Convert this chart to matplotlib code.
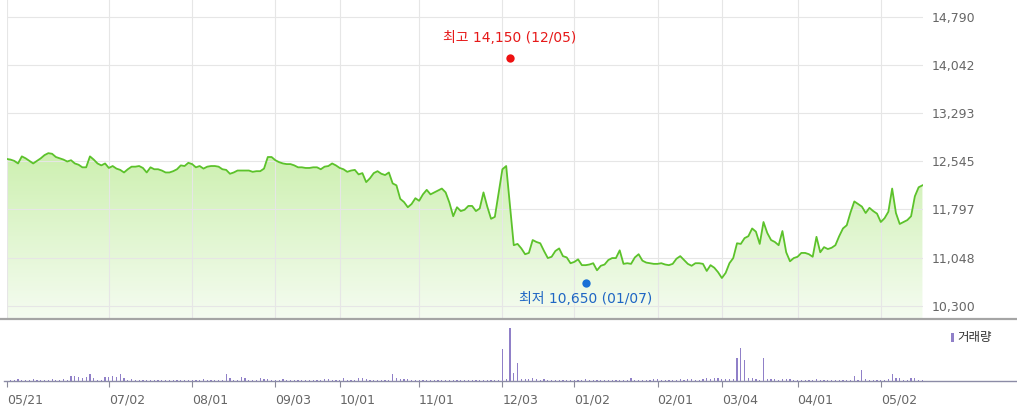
import numpy as np
import pandas as pd
import matplotlib
matplotlib.use("Agg")
import matplotlib.pyplot as plt
from matplotlib.colors import LinearSegmentedColormap
from matplotlib.lines import Line2D
from matplotlib.patches import Rectangle

plt.rcParams['font.family'] = ['DejaVu Sans', 'Noto Sans CJK KR']

# ---------------- data ----------------
start_date = '2018-05-21'
end_date = '2019-05-20'
holidays = ['2018-05-22', '2018-06-06', '2018-06-13', '2018-08-15', '2018-09-24',
            '2018-09-25', '2018-09-26', '2018-10-03', '2018-10-09', '2018-12-25',
            '2018-12-31', '2019-01-01', '2019-02-04', '2019-02-05', '2019-02-06',
            '2019-03-01', '2019-05-01', '2019-05-06']

prices = [
    12580, 12570, 12550, 12510, 12620, 12590, 12550, 12510, 12550, 12590,
    12640, 12670, 12660, 12610, 12590, 12570, 12540, 12560, 12510, 12490,
    12450, 12450, 12620, 12570, 12510, 12480, 12510, 12440, 12470, 12430,
    12410, 12370, 12420, 12460, 12460, 12470, 12440, 12370, 12450, 12420,
    12420, 12400, 12370, 12370, 12390, 12420, 12480, 12470, 12520, 12500,
    12450, 12470, 12430, 12460, 12470, 12470, 12460, 12420, 12410, 12350,
    12370, 12400, 12400, 12400, 12400, 12380, 12390, 12390, 12430, 12610,
    12610, 12560, 12530, 12510, 12500, 12500, 12480, 12450, 12450, 12440,
    12440, 12450, 12450, 12420, 12460, 12470, 12510, 12480, 12440, 12420,
    12380, 12400, 12410, 12340, 12360, 12220, 12280, 12360, 12390, 12350,
    12330, 12370, 12200, 12170, 11960, 11910, 11830, 11880, 11970, 11930,
    12030, 12100, 12030, 12060, 12090, 12120, 12060, 11900, 11690, 11830,
    11770, 11790, 11850, 11850, 11770, 11810, 12060, 11840, 11650, 11680,
    12050, 12420, 12470, 11860, 11240, 11260, 11190, 11100, 11120, 11320,
    11290, 11270, 11150, 11040, 11060, 11150, 11190, 11070, 11050, 10960,
    10980, 11020, 10930, 10930, 10940, 10960, 10850, 10920, 10940, 11010,
    11040, 11040, 11160, 10950, 10960, 10950, 11050, 11100, 11000, 10970,
    10960, 10950, 10950, 10960, 10940, 10930, 10950, 11030, 11070, 11010,
    10950, 10920, 10960, 10960, 10950, 10840, 10930, 10890, 10820, 10730,
    10810, 10960, 11040, 11270, 11260, 11350, 11380, 11500, 11450, 11260,
    11600, 11430, 11320, 11290, 11240, 11460, 11130, 10990, 11040, 11060,
    11120, 11120, 11100, 11060, 11370, 11130, 11210, 11180, 11200, 11240,
    11380, 11500, 11550, 11750, 11920, 11880, 11840, 11740, 11820, 11770,
    11730, 11600, 11660, 11760, 12120, 11740, 11570, 11600, 11630, 11690,
    12000, 12140, 12170]

volumes = [
    2, 2, 2, 3, 2, 2, 2, 3, 2, 2,
    2, 2, 3, 2, 2, 3, 2, 9, 9, 8,
    6, 8, 13, 5, 2, 1, 8, 8, 10, 8,
    13, 6, 2, 4, 2, 2, 1, 2, 1, 2,
    2, 1, 2, 2, 1, 2, 2, 1, 1, 1,
    1, 1, 4, 1, 2, 1, 2, 2, 13, 5,
    2, 2, 8, 6, 1, 1, 1, 5, 3, 4,
    2, 1, 1, 3, 1, 1, 2, 1, 1, 1,
    1, 1, 2, 2, 3, 3, 1, 1, 2, 5,
    1, 1, 2, 5, 6, 4, 1, 1, 1, 1,
    1, 1, 13, 5, 3, 4, 3, 1, 1, 1,
    1, 1, 1, 1, 2, 1, 2, 1, 2, 1,
    2, 1, 1, 1, 1, 1, 1, 1, 1, 1,
    1, 60, 3, 100, 15, 34, 3, 3, 3, 5,
    3, 2, 3, 2, 2, 1, 1, 1, 1, 1,
    1, 1, 1, 3, 1, 1, 2, 1, 1, 1,
    1, 1, 1, 1, 2, 5, 1, 1, 1, 1,
    2, 4, 3, 1, 1, 1, 1, 1, 3, 1,
    3, 3, 2, 1, 4, 5, 3, 5, 5, 3,
    3, 3, 3, 43, 62, 40, 6, 5, 3, 2,
    43, 3, 3, 3, 2, 3, 3, 3, 1, 1,
    1, 1, 1, 1, 3, 1, 1, 1, 1, 1,
    2, 1, 2, 2, 9, 2, 21, 3, 1, 1,
    1, 1, 1, 3, 13, 6, 5, 1, 1, 5,
    5, 1, 1]

tick_dates = ['2018-05-21', '2018-07-02', '2018-08-01', '2018-09-03', '2018-10-01',
              '2018-11-01', '2018-12-03', '2019-01-02', '2019-02-01', '2019-03-04',
              '2019-04-01', '2019-05-02']
y_ticks = [10300, 11048, 11797, 12545, 13293, 14042, 14790]

high_date, high_value = '2018-12-05', 14150
low_date, low_value = '2019-01-07', 10650
high_label = '최고 14,150 (12/05)'
low_label = '최저 10,650 (01/07)'
volume_label = '거래량'

# ---------------- calendar ----------------
dates = pd.bdate_range(start_date, end_date)
dates = dates[~dates.isin(pd.to_datetime(holidays))]
n = min(len(dates), len(prices), len(volumes))
dates = dates[:n]
x = np.arange(n)
p = np.array(prices[:n], dtype=float)
v = np.array(volumes[:n], dtype=float)

tick_idx = dates.get_indexer(pd.to_datetime(tick_dates))
tick_lbl = [pd.Timestamp(d).strftime('%m/%d') for d in tick_dates]
hi_idx = dates.get_indexer(pd.to_datetime([high_date]))[0]
lo_idx = dates.get_indexer(pd.to_datetime([low_date]))[0]

# ---------------- layout ----------------
W, H = 1017, 417
fig = plt.figure(figsize=(W / 100, H / 100), dpi=100)
fig.patch.set_facecolor('white')

def rect(l, t, r, b):
    return [l / W, 1 - b / H, (r - l) / W, (b - t) / H]

L_PX, R_PX = 6.7, 923
step = 3.784
x_right = (R_PX - L_PX) / step

# price axis
ax = fig.add_axes(rect(L_PX, 0, R_PX, 319))
px_per_unit = (305.7 - 16.7) / (14790 - 10300)
y_top = 14790 + 16.7 / px_per_unit
y_bot = 10300 - (319 - 305.7) / px_per_unit

green_cmap = LinearSegmentedColormap.from_list('g', ['#f5fcf1', '#cdf0b0'])
grad = np.linspace(0, 1, 256).reshape(-1, 1)
im = ax.imshow(grad, extent=[0, x[-1], y_bot, p.max()], origin='lower',
               cmap=green_cmap, aspect='auto', zorder=0.1, interpolation='bicubic')
poly = ax.fill_between(x, p, y_bot, color='none', linewidth=0)
im.set_clip_path(poly.get_paths()[0], ax.transData)
ax.plot(x, p, color='#5cc22b', linewidth=1.3, zorder=3, solid_joinstyle='round')

ax.set_xlim(0, x_right)
ax.set_ylim(y_bot, y_top)
ax.set_xticks(tick_idx)
ax.set_yticks(y_ticks)
ax.set_yticklabels([f'{t:,}' for t in y_ticks])
ax.yaxis.tick_right()
ax.tick_params(axis='y', length=0, pad=6.5, labelsize=9, labelcolor='#666666')
ax.tick_params(axis='x', length=0, labelbottom=False)
ax.grid(True, color='#e6e6e6', linewidth=0.8)
ax.set_axisbelow(True)
for s in ax.spines.values():
    s.set_visible(False)

# high / low markers
ax.plot([hi_idx], [high_value], 'o', color='#ee1111', markersize=6, zorder=4,
        markeredgewidth=0)
ax.plot([lo_idx], [low_value], 'o', color='#1a6fd6', markersize=6, zorder=4,
        markeredgewidth=0)
ax.annotate(high_label, (hi_idx, high_value), xytext=(0, 14.5), textcoords='offset points',
            ha='center', va='center', color='#e61919', fontsize=10, zorder=5)
ax.annotate(low_label, (lo_idx, low_value), xytext=(0, -11.2), textcoords='offset points',
            ha='center', va='center', color='#1f66c4', fontsize=10, zorder=5)

# volume axis
vax = fig.add_axes(rect(L_PX, 322, R_PX, 381))
vax.bar(x, v, width=0.32, color='#9080c8', linewidth=0)
vax.set_xlim(0, x_right)
vax.set_ylim(0, 100 * 59 / 53)
vax.set_yticks([])
vax.set_xticks(tick_idx)
vax.set_xticklabels(tick_lbl, ha='left')
vax.tick_params(axis='x', direction='out', length=4.5, width=0.8, color='#8a8a9a',
                pad=4.5, labelsize=9, labelcolor='#666666')
for s in vax.spines.values():
    s.set_visible(False)
vax.patch.set_alpha(0)

# separator and baseline lines (full width)
fig.add_artist(Line2D([0, 1], [1 - 319.3 / H] * 2, transform=fig.transFigure,
                      color='#a5a5a5', linewidth=1.6))
fig.add_artist(Line2D([4 / W, 1], [1 - 381 / H] * 2, transform=fig.transFigure,
                      color='#8c8ca6', linewidth=1.0))

# volume legend
fig.add_artist(Rectangle((951 / W, 1 - 342 / H), 3.2 / W, 9 / H,
                         transform=fig.transFigure, color='#9080c8', linewidth=0))
fig.text(957 / W, 1 - 337.5 / H, volume_label, ha='left', va='center',
         fontsize=9, color='#333333')

fig.savefig('out.png', dpi=100, facecolor='white')
